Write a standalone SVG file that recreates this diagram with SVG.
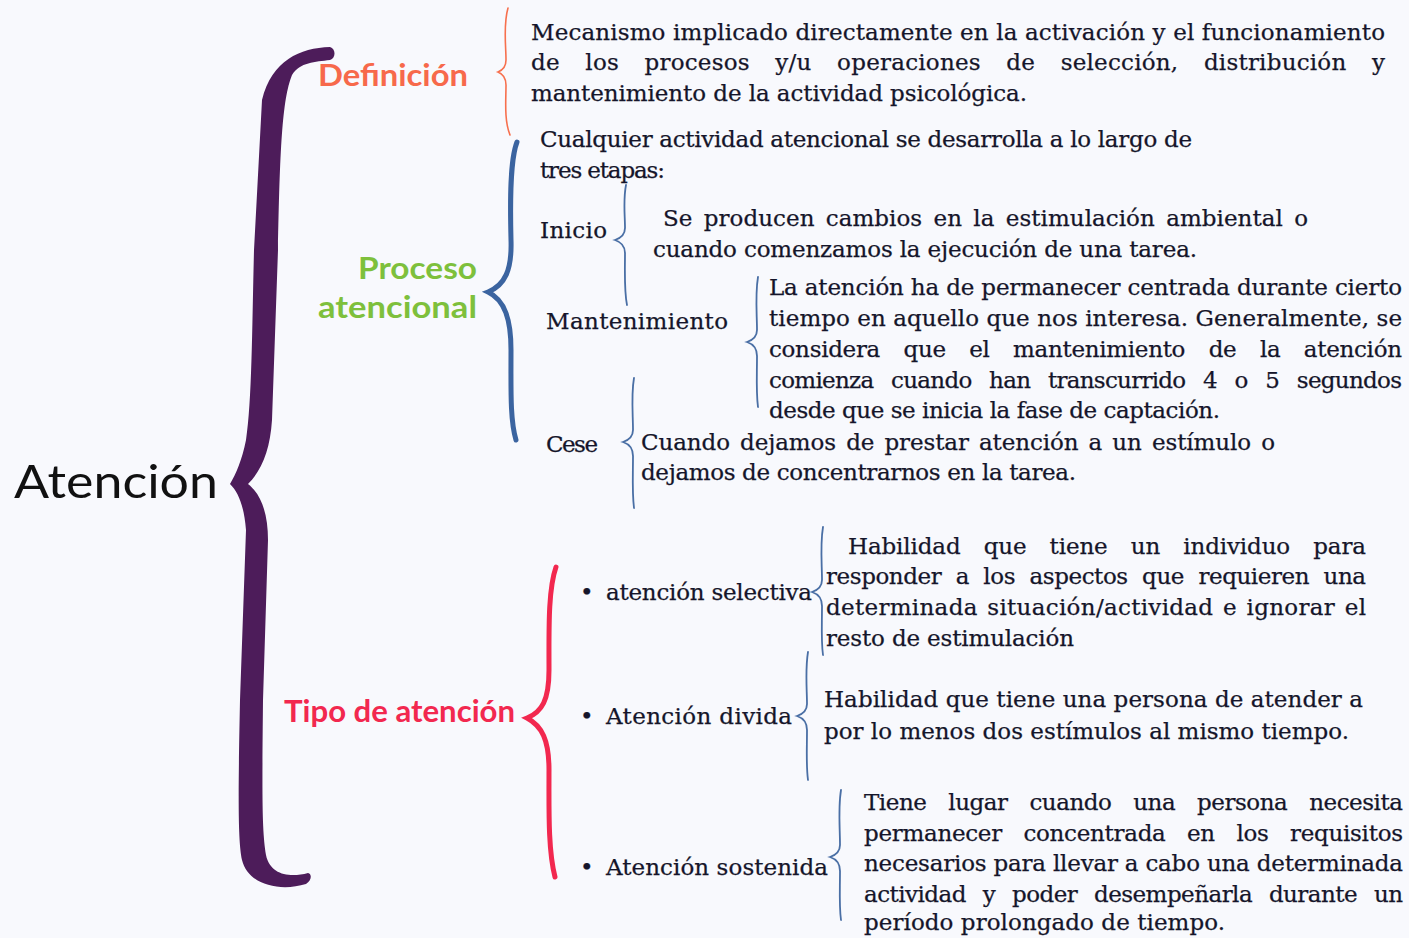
<svg xmlns="http://www.w3.org/2000/svg" width="1409" height="938" viewBox="0 0 1409 938">
<style>
.t{font-family:"DejaVu Serif","Liberation Serif",serif;font-size:23px;fill:#15152a;stroke:#15152a;stroke-width:0.25}
.h{font-family:Lato,"Open Sans",sans-serif;font-weight:bold;font-size:30px}
.thin{fill:none;stroke:#4a6fa5;stroke-width:1.8;stroke-linecap:round}
</style>
<rect width="1409" height="938" fill="#f8f9fd"/>
<g id="connectors">
<path id="brace-main" d="M 330,47 C 300,48 272,60 262,100 L 254,250 C 252,330 252,400 246,440 C 242,460 236,474 230,484 C 238,492 244,505 246,530 L 240,700 C 238,800 238,840 242,860 C 248,885 280,892 306,884 C 312,880 312,874 308,873 C 290,878 270,875 266,855 C 262,830 262,800 263,700 L 268,540 C 268,515 262,495 248,484 C 262,470 270,450 272,420 L 278,250 C 280,150 282,100 292,75 C 300,62 315,62 330,60 C 336,58 336,49 330,47 Z" fill="#4d1c5a"/>
<path d="M 508,8 C 503,25 506,45 506,60 C 506,67 503,70 498,72 C 503,74 506,78 506,85 C 506,100 504,120 510,135" fill="none" stroke="#f7704e" stroke-width="1.6" stroke-linecap="round"/>
<path d="M 517,142 C 510,160 510,200 511,240 C 512,270 505,285 488,292 C 505,300 511,320 511,350 C 511,390 510,420 516,440" fill="none" stroke="#3b64a0" stroke-width="5" stroke-linecap="round"/>
<path d="M 556,567 C 548,590 549,630 549,670 C 549,700 542,712 527,718 C 542,726 549,740 549,770 C 549,810 548,850 555,877" fill="none" stroke="#f2284f" stroke-width="5" stroke-linecap="round"/>
<path class="thin" d="M 626,185 C 623,200 625,215 625,228 C 625,235 621,238 615,240 C 621,242 625,246 625,253 C 625,270 624,290 627,305"/>
<path class="thin" d="M 758,277 C 755,295 757,315 757,330 C 757,337 753,340 747,342 C 753,344 757,348 757,356 C 757,375 756,392 758,407"/>
<path class="thin" d="M 634,378 C 631,395 633,415 633,430 C 633,437 629,440 623,442 C 629,444 633,448 633,456 C 633,475 632,492 634,508"/>
<path class="thin" d="M 823,527 C 820,545 822,565 822,580 C 822,587 818,590 812,592 C 818,594 822,598 822,606 C 822,625 821,640 823,655"/>
<path class="thin" d="M 808,652 C 805,670 807,690 807,704 C 807,711 803,714 797,716 C 803,718 807,722 807,730 C 807,750 806,765 808,780"/>
<path class="thin" d="M 841,790 C 838,808 840,828 840,845 C 840,852 836,855 830,857 C 836,859 840,863 840,871 C 840,890 839,905 841,920"/>
</g>
<g id="n-atencion"><text x="14" y="498" font-family="Lato,'Liberation Sans',sans-serif" font-size="46" fill="#111" textLength="204" lengthAdjust="spacingAndGlyphs">Atención</text></g>
<g id="n-definicion"><text class="h" x="318" y="86" fill="#f7694b" textLength="150" lengthAdjust="spacingAndGlyphs">Definición</text></g>
<g id="n-proceso"><text class="h" x="477" y="279" text-anchor="end" fill="#7ec03c" textLength="119" lengthAdjust="spacingAndGlyphs">Proceso</text><text class="h" x="477" y="318" text-anchor="end" fill="#7ec03c" textLength="159" lengthAdjust="spacingAndGlyphs">atencional</text></g>
<g id="n-tipo"><text class="h" x="284" y="722" fill="#f2284f" textLength="231" lengthAdjust="spacingAndGlyphs">Tipo de atención</text></g>
<g id="n-def-text">
<text class="t" x="531" y="40" textLength="854">Mecanismo implicado directamente en la activación y el funcionamiento</text>
<text class="t" x="531" y="70" textLength="854" word-spacing="18">de los procesos y/u operaciones de selección, distribución y</text>
<text class="t" x="531" y="101" textLength="496">mantenimiento de la actividad psicológica.</text>
</g>
<g id="n-proc-text">
<text class="t" x="540" y="147" textLength="652">Cualquier actividad atencional se desarrolla a lo largo de</text>
<text class="t" x="540" y="178" textLength="125">tres etapas:</text>
</g>
<g id="n-inicio"><text class="t" x="540" y="238" textLength="67">Inicio</text>
<text class="t" x="663" y="226" textLength="645" word-spacing="4">Se producen cambios en la estimulación ambiental o</text>
<text class="t" x="653" y="257" textLength="544">cuando comenzamos la ejecución de una tarea.</text></g>
<g id="n-mant"><text class="t" x="546" y="329" textLength="182">Mantenimiento</text>
<text class="t" x="769" y="295" textLength="633">La atención ha de permanecer centrada durante cierto</text>
<text class="t" x="769" y="326" textLength="633">tiempo en aquello que nos interesa. Generalmente, se</text>
<text class="t" x="769" y="357" textLength="633" word-spacing="16.5">considera que el mantenimiento de la atención</text>
<text class="t" x="769" y="388" textLength="633" word-spacing="11">comienza cuando han transcurrido 4 o 5 segundos</text>
<text class="t" x="769" y="418" textLength="451">desde que se inicia la fase de captación.</text></g>
<g id="n-cese"><text class="t" x="546" y="452" textLength="52">Cese</text>
<text class="t" x="641" y="450" textLength="634" word-spacing="3">Cuando dejamos de prestar atención a un estímulo o</text>
<text class="t" x="641" y="480" textLength="435">dejamos de concentrarnos en la tarea.</text></g>
<g id="n-selectiva"><text class="t" x="580" y="600">•</text><text class="t" x="606" y="600" textLength="206">atención selectiva</text>
<text class="t" x="848" y="554" textLength="518" word-spacing="16">Habilidad que tiene un individuo para</text>
<text class="t" x="826" y="584" textLength="540" word-spacing="7.5">responder a los aspectos que requieren una</text>
<text class="t" x="826" y="615" textLength="540" word-spacing="2">determinada situación/actividad e ignorar el</text>
<text class="t" x="826" y="646" textLength="248">resto de estimulación</text></g>
<g id="n-divida"><text class="t" x="580" y="724">•</text><text class="t" x="606" y="724" textLength="186">Atención divida</text>
<text class="t" x="824" y="707" textLength="539">Habilidad que tiene una persona de atender a</text>
<text class="t" x="824" y="739" textLength="525">por lo menos dos estímulos al mismo tiempo.</text></g>
<g id="n-sostenida"><text class="t" x="580" y="875">•</text><text class="t" x="606" y="875" textLength="222">Atención sostenida</text>
<text class="t" x="864" y="810" textLength="539" word-spacing="15">Tiene lugar cuando una persona necesita</text>
<text class="t" x="864" y="841" textLength="539" word-spacing="14.5">permanecer concentrada en los requisitos</text>
<text class="t" x="864" y="871" textLength="539">necesarios para llevar a cabo una determinada</text>
<text class="t" x="864" y="902" textLength="539" word-spacing="10">actividad y poder desempeñarla durante un</text>
<text class="t" x="864" y="930" textLength="361">período prolongado de tiempo.</text></g>
</svg>
